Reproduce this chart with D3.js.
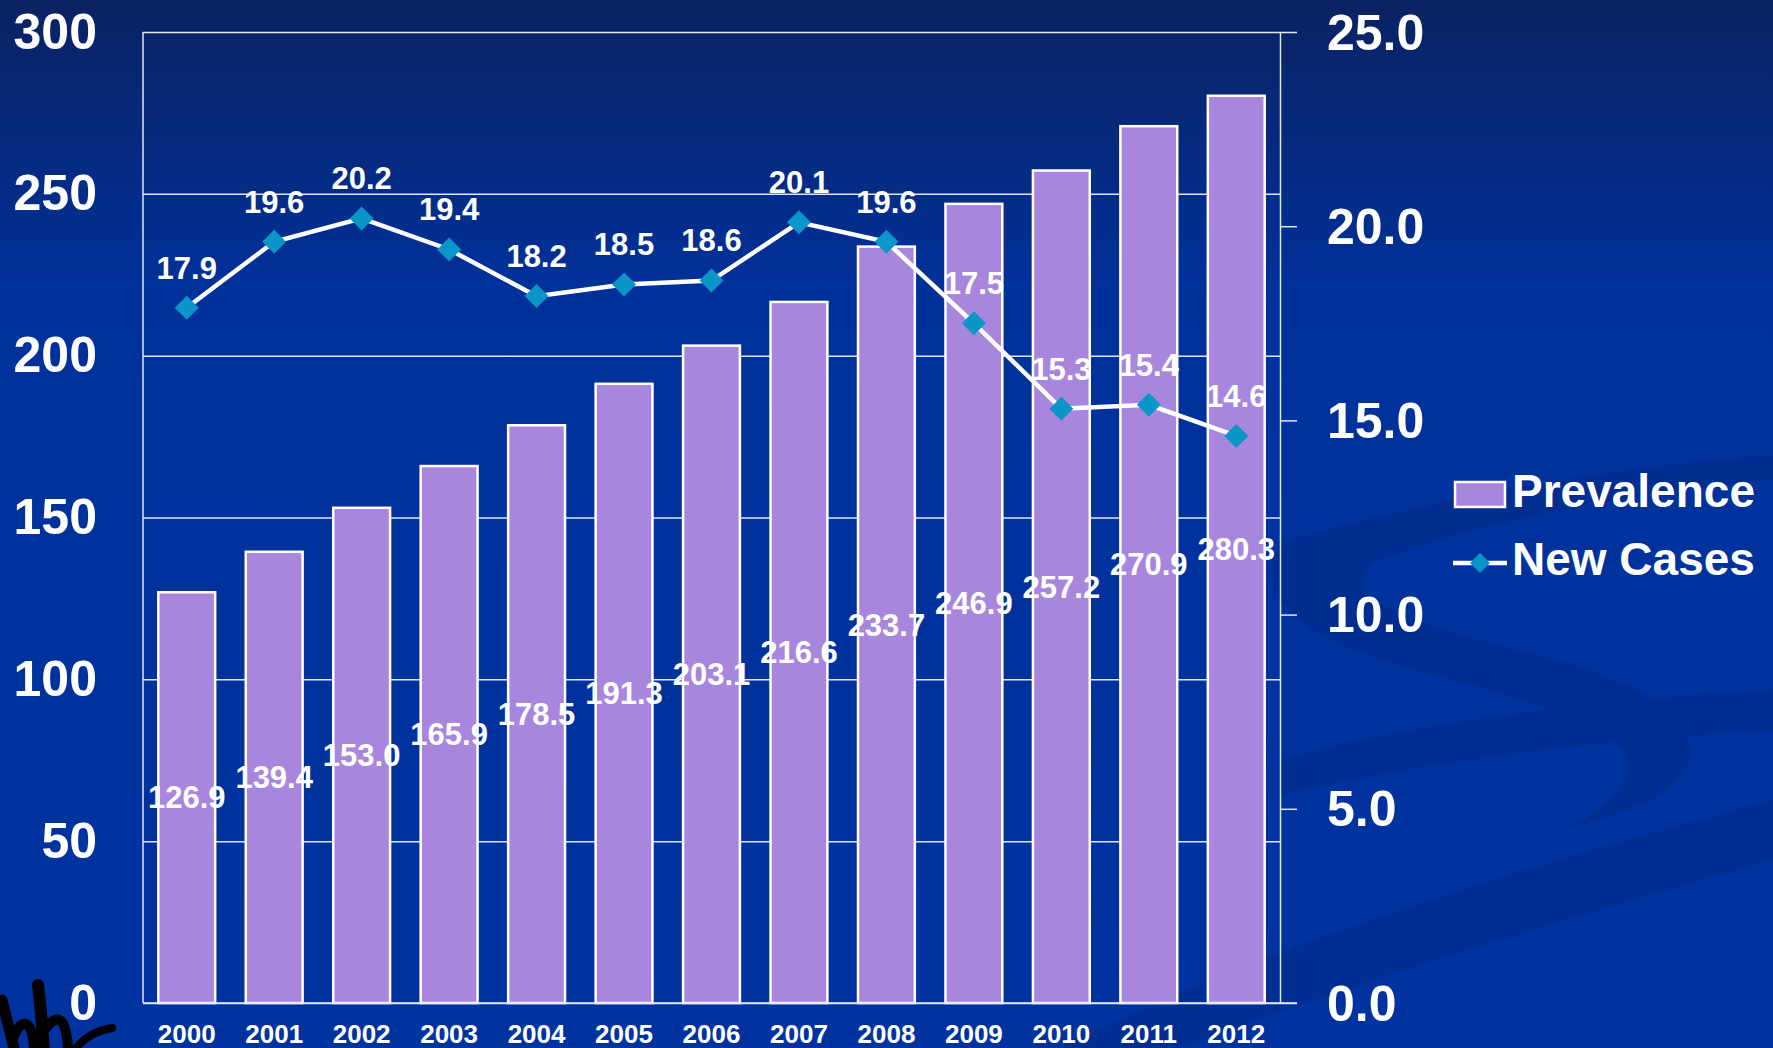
<!DOCTYPE html>
<html>
<head>
<meta charset="utf-8">
<script src="https://cdn.jsdelivr.net/npm/d3@7"></script>
<style>
  html, body { margin: 0; padding: 0; background: #0033a0; }
  svg { display: block; }
  text { font-family: "Liberation Sans", Arial, sans-serif; font-weight: bold; fill: #fff; }
</style>
</head>
<body>
<svg id="chart" width="1773" height="1048"></svg>
<script>
"use strict";

const years = ["2000", "2001", "2002", "2003", "2004", "2005", "2006", "2007", "2008", "2009", "2010", "2011", "2012"];
const prevalence = [126.9, 139.4, 153.0, 165.9, 178.5, 191.3, 203.1, 216.6, 233.7, 246.9, 257.2, 270.9, 280.3];
const newCases = [17.9, 19.6, 20.2, 19.4, 18.2, 18.5, 18.6, 20.1, 19.6, 17.5, 15.3, 15.4, 14.6];
const leftTicks = [0, 50, 100, 150, 200, 250, 300];
const rightTicks = [0, 5, 10, 15, 20, 25];
const seriesNames = ["Prevalence", "New Cases"];

const W = 1773, H = 1048;
const plot = { left: 143, right: 1280, top: 32, bottom: 1003 };
const purple = "#a886de", teal = "#0a96c8";

const svg = d3.select("#chart");

// background: dark gradient with faint swooshes
const defs = svg.append("defs");
const grad = defs.append("linearGradient").attr("id", "bg").attr("x1", 0).attr("y1", 0).attr("x2", 0).attr("y2", 1);
grad.append("stop").attr("offset", "0%").attr("stop-color", "#0b2262");
grad.append("stop").attr("offset", "28%").attr("stop-color", "#00319b");
grad.append("stop").attr("offset", "100%").attr("stop-color", "#0033a0");
svg.append("rect").attr("width", W).attr("height", H).attr("fill", "url(#bg)");

const swoosh = svg.append("g").attr("fill", "#00287f").attr("opacity", 0.4);
swoosh.append("path").attr("d", "M1060,1048 C1300,930 1550,860 1773,800 L1773,860 C1560,920 1330,990 1180,1048 Z");
swoosh.append("path").attr("d", "M1280,760 C1420,720 1600,700 1773,690 L1773,730 C1600,740 1430,760 1280,795 Z");
swoosh.append("path").attr("d", "M1290,540 C1500,480 1700,460 1773,455 L1773,480 C1650,490 1480,520 1380,560 C1330,590 1400,620 1480,640 C1600,670 1700,700 1690,760 C1680,800 1600,820 1560,830 C1630,800 1650,760 1600,730 C1520,690 1390,670 1330,640 C1260,600 1260,560 1290,540 Z");

// scales
const x = d3.scaleBand().domain(years).range([plot.left, plot.right]).paddingInner(0.35).paddingOuter(0.175);
const yL = d3.scaleLinear().domain([0, 300]).range([plot.bottom, plot.top]);
const yR = d3.scaleLinear().domain([0, 25]).range([plot.bottom, plot.top]);

// gridlines
const grid = svg.append("g").attr("transform", `translate(${plot.left},0)`)
  .call(d3.axisLeft(yL).tickValues(leftTicks).tickSize(-(plot.right - plot.left)).tickFormat(""));
grid.select(".domain").remove();
grid.selectAll("line").attr("stroke", "#dfe6f5").attr("stroke-width", 1.5);

// left side of the frame
svg.append("line").attr("x1", plot.left).attr("x2", plot.left).attr("y1", plot.top).attr("y2", plot.bottom)
  .attr("stroke", "#dfe6f5").attr("stroke-width", 1.5);

// bars
const bars = prevalence.map((v, i) => ({ year: years[i], value: v }));
svg.append("g").selectAll("rect").data(bars).join("rect")
  .attr("x", d => x(d.year))
  .attr("y", d => yL(d.value))
  .attr("width", x.bandwidth())
  .attr("height", d => yL(0) - yL(d.value))
  .attr("fill", purple)
  .attr("stroke", "#fff")
  .attr("stroke-width", 2.5);

// right axis with outward ticks
const rightAxis = svg.append("g").attr("transform", `translate(${plot.right},0)`)
  .call(d3.axisRight(yR).tickValues(rightTicks).tickSize(17).tickSizeOuter(0).tickFormat(d3.format(".1f")));
rightAxis.select(".domain").attr("stroke", "#dfe6f5").attr("stroke-width", 1.5);
rightAxis.selectAll("line").attr("stroke", "#dfe6f5").attr("stroke-width", 1.5);
rightAxis.selectAll("text")
  .attr("x", 47).attr("dy", "0.34em")
  .attr("text-anchor", "start")
  .style("font-size", "50px").style("fill", "#fff");

// bottom axis line (extends under right ticks)
svg.append("line").attr("x1", plot.left).attr("x2", plot.right + 17).attr("y1", plot.bottom).attr("y2", plot.bottom)
  .attr("stroke", "#dfe6f5").attr("stroke-width", 1.5);

// left axis labels
const leftAxis = svg.append("g").attr("transform", `translate(${plot.left},0)`)
  .call(d3.axisLeft(yL).tickValues(leftTicks).tickSize(0).tickFormat(d3.format("d")));
leftAxis.select(".domain").remove();
leftAxis.selectAll("text")
  .attr("x", -46).attr("dy", "0.32em")
  .style("font-size", "50px").style("fill", "#fff");

// x axis labels
const xAxis = svg.append("g").attr("transform", `translate(0,${plot.bottom})`)
  .call(d3.axisBottom(x).tickSize(0));
xAxis.select(".domain").remove();
xAxis.selectAll("text").attr("y", 40).attr("dy", 0)
  .style("font-size", "26px").style("fill", "#fff");

// prevalence labels, in the middle of each bar
svg.append("g").selectAll("text").data(bars).join("text")
  .attr("x", d => x(d.year) + x.bandwidth() / 2)
  .attr("y", d => yL(d.value / 2))
  .attr("dy", "0.35em")
  .attr("text-anchor", "middle")
  .style("font-size", "31px")
  .text(d => d3.format(".1f")(d.value));

// new cases line
const pts = newCases.map((v, i) => ({ year: years[i], value: v }));
const cx = d => x(d.year) + x.bandwidth() / 2;
svg.append("path").datum(pts)
  .attr("fill", "none").attr("stroke", "#fff").attr("stroke-width", 4.5)
  .attr("d", d3.line().x(cx).y(d => yR(d.value)));

const diamond = r => `M0,${-r}L${r},0L0,${r}L${-r},0Z`;
svg.append("g").selectAll("path").data(pts).join("path")
  .attr("transform", d => `translate(${cx(d)},${yR(d.value)})`)
  .attr("d", diamond(12))
  .attr("fill", teal);

svg.append("g").selectAll("text").data(pts).join("text")
  .attr("x", cx)
  .attr("y", d => yR(d.value) - 40)
  .attr("dy", "0.35em")
  .attr("text-anchor", "middle")
  .style("font-size", "31px")
  .text(d => d3.format(".1f")(d.value));

// legend
const legend = svg.append("g");
legend.append("rect").attr("x", 1455).attr("y", 482).attr("width", 50).attr("height", 25)
  .attr("fill", purple).attr("stroke", "#fff").attr("stroke-width", 2.5);
legend.append("text").attr("x", 1512).attr("y", 507).style("font-size", "46px").text(seriesNames[0]);
legend.append("line").attr("x1", 1453).attr("x2", 1507).attr("y1", 563).attr("y2", 563)
  .attr("stroke", "#fff").attr("stroke-width", 4.5);
legend.append("path").attr("transform", "translate(1480,563)").attr("d", diamond(10)).attr("fill", teal);
legend.append("text").attr("x", 1512).attr("y", 575).style("font-size", "46px").text(seriesNames[1]);

// corner logo fragment (black scribble, bottom-left)
const logo = svg.append("g").attr("fill", "none").attr("stroke", "#000").attr("stroke-linecap", "round");
logo.append("path").attr("d", "M2,1000 C8,1025 12,1040 14,1048").attr("stroke-width", 11);
logo.append("path").attr("d", "M14,1036 C22,1018 32,1018 34,1048").attr("stroke-width", 10);
logo.append("path").attr("d", "M38,985 C41,1008 42,1030 44,1048").attr("stroke-width", 12);
logo.append("path").attr("d", "M46,1028 C58,1012 66,1018 68,1048").attr("stroke-width", 10);
logo.append("path").attr("d", "M76,1048 C86,1036 100,1030 112,1028").attr("stroke-width", 8);
</script>
</body>
</html>
